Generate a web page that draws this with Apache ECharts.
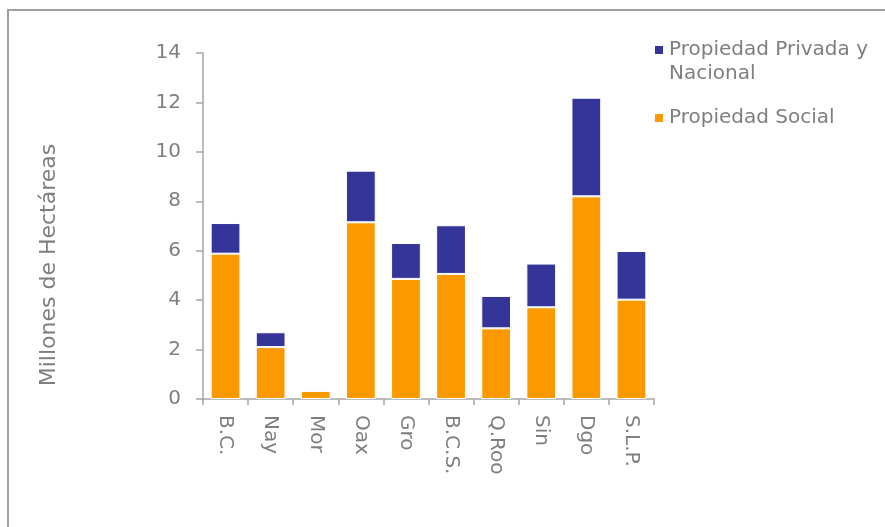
<!DOCTYPE html>
<html>
<head>
<meta charset="utf-8">
<script src="https://cdn.jsdelivr.net/npm/echarts@6/dist/echarts.min.js"></script>
<style>
html,body{margin:0;padding:0;background:#fff;}
#chart{width:885px;height:527px;}
</style>
</head>
<body>
<div id="chart"></div>
<script>
var categories = ['B.C.', 'Nay', 'Mor', 'Oax', 'Gro', 'B.C.S.', 'Q.Roo', 'Sin', 'Dgo', 'S.L.P.'];
var propiedadSocial = [5.88, 2.10, 0.33, 7.15, 4.86, 5.06, 2.86, 3.71, 8.20, 4.02];
var propiedadPrivada = [1.24, 0.60, 0, 2.09, 1.45, 1.97, 1.31, 1.77, 3.99, 1.97];
var yTicks = { min: 0, max: 14, interval: 2 };
var yTitle = 'Millones de Hectáreas';
var nameSocial = 'Propiedad Social';
var namePrivada = 'Propiedad Privada y Nacional';
var namePrivadaLine1 = 'Propiedad Privada y';
var namePrivadaLine2 = 'Nacional';

var FONT = 'DejaVu Sans';
var GRAY = '#7f7f7f';
var AXIS = '#a6a6a6';

var chart = echarts.init(document.getElementById('chart'), null, { renderer: 'canvas' });
chart.setOption({
  animation: false,
  backgroundColor: '#fff',
  textStyle: { fontFamily: FONT },
  graphic: [{
    type: 'rect',
    shape: { x: 8, y: 10, width: 900, height: 540 },
    style: { fill: 'none', stroke: '#a0a0a0', lineWidth: 2 },
    silent: true
  }, {
    type: 'text',
    left: 669, top: 64,
    style: { text: namePrivadaLine2, fill: GRAY, font: '20px "DejaVu Sans"' },
    silent: true
  }],
  grid: { left: 203, right: 231, top: 53, bottom: 128, containLabel: false },
  legend: [{
    data: [namePrivada],
    orient: 'vertical',
    left: 653, top: 40, padding: 0,
    icon: 'rect', itemWidth: 10, itemHeight: 10,
    formatter: function () { return namePrivadaLine1; },
    textStyle: { color: GRAY, fontSize: 20, fontFamily: FONT }
  }, {
    data: [nameSocial],
    orient: 'vertical',
    left: 653, top: 108, padding: 0,
    icon: 'rect', itemWidth: 10, itemHeight: 10,
    textStyle: { color: GRAY, fontSize: 20, fontFamily: FONT }
  }],
  xAxis: {
    type: 'category',
    data: categories,
    axisLine: { lineStyle: { color: AXIS, width: 1.5 } },
    axisTick: { show: true, length: 6, alignWithLabel: false, lineStyle: { color: AXIS, width: 1.5 } },
    axisLabel: { rotate: -90, color: GRAY, fontSize: 20, fontFamily: FONT, margin: 16, interval: 0 }
  },
  yAxis: {
    type: 'value',
    min: yTicks.min, max: yTicks.max, interval: yTicks.interval,
    name: yTitle,
    nameLocation: 'middle',
    nameGap: 143,
    nameRotate: 90,
    nameTextStyle: { color: GRAY, fontSize: 22, fontFamily: FONT, padding: [0, 78, 0, 0] },
    axisLine: { show: true, lineStyle: { color: AXIS, width: 1.5 } },
    axisTick: { show: true, length: 7, lineStyle: { color: AXIS, width: 1.5 } },
    splitLine: { show: false },
    axisLabel: { color: GRAY, fontSize: 20, fontFamily: FONT, margin: 22 }
  },
  series: [{
    name: nameSocial,
    type: 'bar',
    stack: 'total',
    barWidth: '66%',
    data: propiedadSocial,
    itemStyle: { color: '#fb9900', borderColor: '#ffffff', borderWidth: 1 }
  }, {
    name: namePrivada,
    type: 'bar',
    stack: 'total',
    barWidth: '66%',
    data: propiedadPrivada,
    itemStyle: { color: '#353599', borderColor: '#ffffff', borderWidth: 1 }
  }]
});
</script>
</body>
</html>
